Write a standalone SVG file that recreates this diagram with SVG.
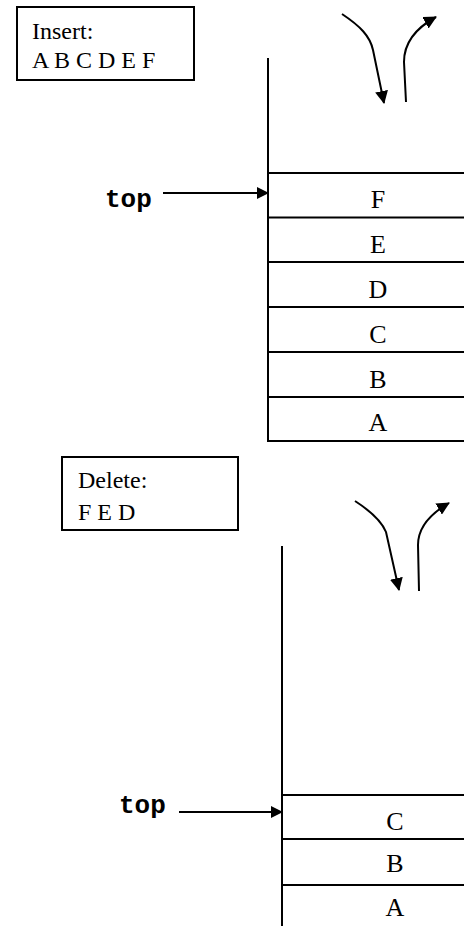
<svg xmlns="http://www.w3.org/2000/svg" width="464" height="926" viewBox="0 0 464 926">
<style>
.ln{stroke:#000;stroke-width:2;fill:none}
.lbl{font-family:"Liberation Serif","Times New Roman",serif;font-size:24px;fill:#000}
.cell{font-family:"Liberation Serif","Times New Roman",serif;font-size:26px;fill:#000;text-anchor:middle}
.mono{font-family:"Liberation Mono","Courier New",monospace;font-size:26px;font-weight:bold;fill:#000}
</style>
<defs>
<marker id="ah" markerWidth="12" markerHeight="12" refX="11" refY="6" orient="auto" markerUnits="userSpaceOnUse">
<path d="M0,0 L12,6 L0,12 z" fill="#000"/>
</marker>
<marker id="ah2" markerWidth="13" markerHeight="13" refX="12" refY="6.5" orient="auto" markerUnits="userSpaceOnUse">
<path d="M0,0 L13,6.5 L0,13 z" fill="#000"/>
</marker>
</defs>
<g id="insert-note">
<rect x="17" y="7" width="177" height="73" class="ln"/>
<text x="32" y="39" class="lbl">Insert:</text>
<text x="32" y="68" class="lbl">A B C D E F</text>
</g>
<g id="stack1">
<line x1="268" y1="58" x2="268" y2="442" class="ln"/>
<line x1="268" y1="173" x2="464" y2="173" class="ln"/>
<line x1="268" y1="217.5" x2="464" y2="217.5" class="ln"/>
<line x1="268" y1="262" x2="464" y2="262" class="ln"/>
<line x1="268" y1="307" x2="464" y2="307" class="ln"/>
<line x1="268" y1="352" x2="464" y2="352" class="ln"/>
<line x1="268" y1="397" x2="464" y2="397" class="ln"/>
<line x1="267" y1="441" x2="464" y2="441" class="ln"/>
<text x="378" y="208" class="cell">F</text>
<text x="378" y="253" class="cell">E</text>
<text x="378" y="298" class="cell">D</text>
<text x="378" y="343" class="cell">C</text>
<text x="378" y="388" class="cell">B</text>
<text x="378" y="431" class="cell">A</text>
</g>
<g id="top1">
<text x="105" y="207" class="mono">top</text>
</g>
<g id="delete-note">
<rect x="62" y="457" width="176" height="73" class="ln"/>
<text x="78" y="488" class="lbl">Delete:</text>
<text x="78" y="520" class="lbl">F E D</text>
</g>
<g id="stack2">
<line x1="282" y1="546" x2="282" y2="926" class="ln"/>
<line x1="282" y1="795" x2="464" y2="795" class="ln"/>
<line x1="282" y1="839" x2="464" y2="839" class="ln"/>
<line x1="282" y1="885" x2="464" y2="885" class="ln"/>
<text x="395" y="830" class="cell">C</text>
<text x="395" y="872" class="cell">B</text>
<text x="395" y="916" class="cell">A</text>
</g>
<g id="top2">
<text x="119" y="813" class="mono">top</text>
</g>
<g id="connectors">
<line x1="163" y1="193" x2="268" y2="193" class="ln" marker-end="url(#ah)"/>
<line x1="179" y1="812" x2="282" y2="812" class="ln" marker-end="url(#ah)"/>
<path d="M342,14 C360,26 370,36 373,50 L384,103" class="ln" marker-end="url(#ah2)"/>
<path d="M406,102 L404,62 C404,42 416,28 436,17" class="ln" marker-end="url(#ah2)"/>
<path d="M355,501 C372,512 382,522 386,532 L399,590" class="ln" marker-end="url(#ah2)"/>
<path d="M419,591 L418,545 C418,528 430,514 449,503" class="ln" marker-end="url(#ah2)"/>
</g>
</svg>
